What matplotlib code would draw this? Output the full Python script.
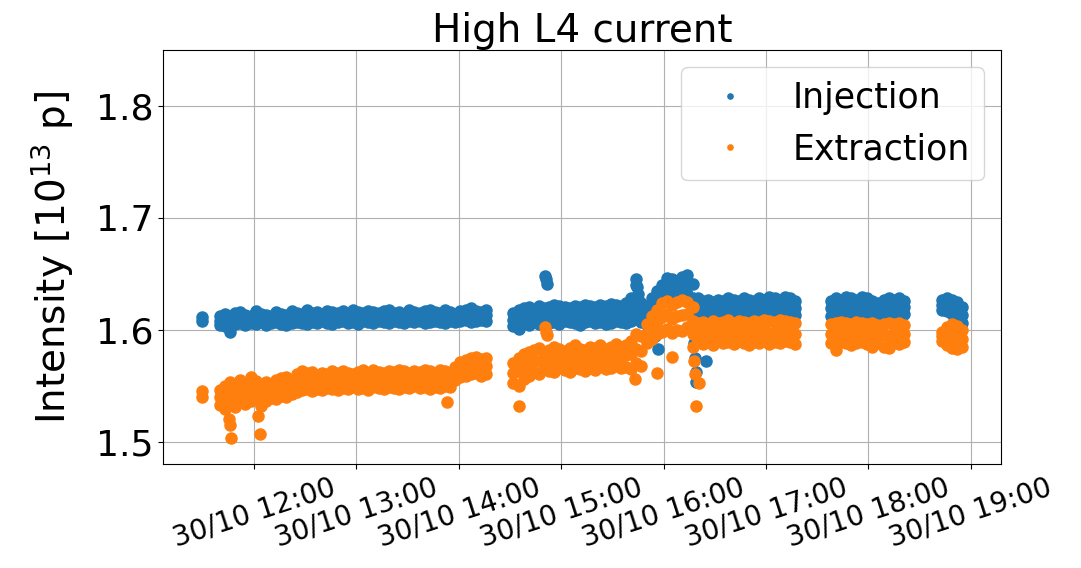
"""
Injection / extraction intensity during the high L4 current period (30/10).
"""
import numpy as np
import pandas as pd
import matplotlib
matplotlib.use("Agg")
import matplotlib.pyplot as plt
import matplotlib.dates as mdates

T0 = pd.Timestamp("2023-10-30 11:00")
STEP = 3.0      # minutes between samples inside a segment

# --------------------------------------------------------------------- #
# Data (minutes after 11:00, intensity in 1e13 p)   #
# each segment: start minute + upper / middle / lower row of the band  #
# --------------------------------------------------------------------- #
seg_starts = [40, 212, 290, 398, 429, 463]

inj_hi = [
    [1.612, 1.614, 1.611, 1.615, 1.616, 1.613, 1.612, 1.617, 1.614, 1.613,
     1.612, 1.616, 1.614, 1.613, 1.617, 1.615, 1.614, 1.618, 1.615, 1.616,
     1.614, 1.617, 1.616, 1.615, 1.617, 1.614, 1.618, 1.616, 1.615, 1.617,
     1.616, 1.615, 1.617, 1.618, 1.615, 1.616, 1.614, 1.618, 1.616, 1.615,
     1.617, 1.618, 1.616, 1.615, 1.618, 1.616, 1.614, 1.617, 1.618, 1.619,
     1.617, 1.616, 1.618],
    [1.615, 1.618, 1.619, 1.620, 1.618, 1.621, 1.619, 1.620, 1.622, 1.621,
     1.620, 1.619, 1.621, 1.620, 1.622, 1.621, 1.620, 1.622, 1.621, 1.623,
     1.622, 1.621, 1.624, 1.628, 1.640, 1.624],
    [1.620, 1.628, 1.635, 1.640, 1.646, 1.645, 1.643, 1.647, 1.649, 1.641,
     1.628, 1.626, 1.627, 1.625, 1.627, 1.626, 1.628, 1.627, 1.626, 1.628,
     1.627, 1.626, 1.628, 1.627, 1.629, 1.628, 1.627, 1.629, 1.628, 1.626],
    [1.626, 1.628, 1.627, 1.629, 1.628, 1.627, 1.629, 1.628, 1.626, 1.624],
    [1.627, 1.628, 1.627, 1.628, 1.626],
    [1.627, 1.628, 1.627, 1.625, 1.620],
]
inj_mid = [
    [1.608, 1.609, 1.607, 1.610, 1.611, 1.608, 1.609, 1.611, 1.610, 1.609,
     1.608, 1.611, 1.610, 1.609, 1.611, 1.612, 1.610, 1.611, 1.612, 1.610,
     1.611, 1.612, 1.610, 1.611, 1.612, 1.610, 1.612, 1.611, 1.612, 1.611,
     1.610, 1.612, 1.611, 1.612, 1.611, 1.612, 1.610, 1.612, 1.611, 1.612,
     1.611, 1.612, 1.613, 1.611, 1.612, 1.611, 1.610, 1.612, 1.613, 1.612,
     1.613, 1.612, 1.613],
    [1.609, 1.610, 1.612, 1.613, 1.612, 1.614, 1.613, 1.612, 1.615, 1.614,
     1.613, 1.612, 1.614, 1.613, 1.615, 1.614, 1.613, 1.615, 1.613, 1.614,
     1.615, 1.613, 1.614, 1.617, 1.624, 1.615],
    [1.612, 1.617, 1.624, 1.633, 1.638, 1.636, 1.637, 1.638, 1.640, 1.628,
     1.620, 1.619, 1.621, 1.618, 1.620, 1.619, 1.621, 1.620, 1.619, 1.621,
     1.620, 1.619, 1.620, 1.621, 1.622, 1.620, 1.621, 1.622, 1.620, 1.619],
    [1.619, 1.620, 1.618, 1.621, 1.620, 1.619, 1.621, 1.620, 1.617, 1.617],
    [1.620, 1.618, 1.619, 1.621, 1.620],
    [1.622, 1.623, 1.620, 1.616, 1.613],
]
inj_lo = [
    [1.604, 1.603, 1.598, 1.605, 1.606, 1.604, 1.606, 1.605, 1.607, 1.604,
     1.606, 1.607, 1.605, 1.604, 1.606, 1.607, 1.606, 1.605, 1.607, 1.606,
     1.608, 1.606, 1.605, 1.607, 1.608, 1.606, 1.607, 1.605, 1.608, 1.607,
     1.606, 1.608, 1.607, 1.606, 1.608, 1.607, 1.606, 1.608, 1.607, 1.608,
     1.606, 1.607, 1.608, 1.607, 1.606, 1.608, 1.607, 1.608, 1.609, 1.607,
     1.608, 1.609, 1.608],
    [1.603, 1.601, 1.606, 1.604, 1.607, 1.605, 1.608, 1.606, 1.607, 1.605,
     1.608, 1.607, 1.606, 1.604, 1.607, 1.608, 1.606, 1.607, 1.605, 1.606,
     1.608, 1.607, 1.606, 1.608, 1.610, 1.607],
    [1.604, 1.606, 1.612, 1.626, 1.630, 1.628, 1.631, 1.629, 1.632, 1.612,
     1.613, 1.611, 1.614, 1.612, 1.613, 1.611, 1.614, 1.612, 1.613, 1.612,
     1.614, 1.613, 1.611, 1.613, 1.614, 1.612, 1.613, 1.614, 1.612, 1.613],
    [1.612, 1.611, 1.613, 1.612, 1.614, 1.612, 1.613, 1.611, 1.609, 1.610],
    [1.612, 1.607, 1.611, 1.613, 1.614],
    [1.618, 1.617, 1.614, 1.608, 1.606],
]
ext_hi = [
    [1.546, 1.550, 1.553, 1.547, 1.555, 1.551, 1.558, 1.554, 1.549, 1.553,
     1.550, 1.555, 1.557, 1.558, 1.555, 1.560, 1.563, 1.561, 1.562, 1.559,
     1.561, 1.560, 1.563, 1.561, 1.563, 1.561, 1.560, 1.562, 1.564, 1.561,
     1.564, 1.562, 1.561, 1.563, 1.562, 1.564, 1.563, 1.561, 1.563, 1.562,
     1.564, 1.563, 1.561, 1.564, 1.563, 1.560, 1.567, 1.571, 1.573, 1.575,
     1.576, 1.574, 1.575],
    [1.570, 1.575, 1.578, 1.580, 1.582, 1.584, 1.580, 1.582, 1.585, 1.583,
     1.581, 1.584, 1.586, 1.583, 1.582, 1.585, 1.584, 1.586, 1.583, 1.585,
     1.587, 1.585, 1.586, 1.590, 1.596, 1.594],
    [1.605, 1.612, 1.618, 1.624, 1.626, 1.622, 1.625, 1.627, 1.625, 1.620,
     1.606, 1.607, 1.605, 1.608, 1.606, 1.607, 1.609, 1.606, 1.608, 1.607,
     1.606, 1.608, 1.607, 1.609, 1.608, 1.607, 1.609, 1.608, 1.607, 1.606],
    [1.605, 1.606, 1.607, 1.606, 1.605, 1.607, 1.606, 1.605, 1.606, 1.604],
    [1.605, 1.606, 1.605, 1.606, 1.604],
    [1.598, 1.602, 1.605, 1.603, 1.600],
]
ext_mid = [
    [1.540, 1.539, 1.543, 1.540, 1.545, 1.542, 1.546, 1.546, 1.541, 1.544,
     1.545, 1.546, 1.548, 1.548, 1.549, 1.551, 1.554, 1.554, 1.553, 1.553,
     1.554, 1.555, 1.554, 1.553, 1.556, 1.554, 1.555, 1.554, 1.556, 1.553,
     1.556, 1.555, 1.554, 1.556, 1.555, 1.556, 1.556, 1.554, 1.557, 1.555,
     1.556, 1.555, 1.556, 1.555, 1.557, 1.554, 1.561, 1.564, 1.566, 1.568,
     1.568, 1.566, 1.568],
    [1.561, 1.563, 1.567, 1.570, 1.572, 1.572, 1.573, 1.572, 1.574, 1.575,
     1.573, 1.573, 1.576, 1.574, 1.572, 1.576, 1.574, 1.577, 1.574, 1.576,
     1.578, 1.575, 1.577, 1.578, 1.583, 1.581],
    [1.596, 1.602, 1.607, 1.611, 1.614, 1.610, 1.612, 1.613, 1.614, 1.608,
     1.598, 1.597, 1.597, 1.597, 1.598, 1.597, 1.599, 1.596, 1.599, 1.597,
     1.596, 1.598, 1.597, 1.600, 1.597, 1.598, 1.598, 1.599, 1.598, 1.596],
    [1.596, 1.597, 1.598, 1.597, 1.595, 1.597, 1.598, 1.596, 1.595, 1.596],
    [1.595, 1.594, 1.597, 1.596, 1.596],
    [1.594, 1.594, 1.595, 1.593, 1.592],
]
ext_lo = [
    [1.533, 1.529, 1.535, 1.531, 1.537, 1.534, 1.536, 1.538, 1.532, 1.536,
     1.539, 1.538, 1.541, 1.540, 1.543, 1.544, 1.546, 1.547, 1.545, 1.547,
     1.546, 1.548, 1.547, 1.546, 1.548, 1.547, 1.549, 1.547, 1.548, 1.546,
     1.549, 1.548, 1.547, 1.549, 1.548, 1.547, 1.549, 1.548, 1.550, 1.548,
     1.549, 1.547, 1.549, 1.548, 1.550, 1.549, 1.555, 1.558, 1.559, 1.560,
     1.561, 1.559, 1.560],
    [1.552, 1.550, 1.556, 1.559, 1.562, 1.560, 1.565, 1.563, 1.562, 1.566,
     1.564, 1.562, 1.566, 1.565, 1.563, 1.566, 1.564, 1.567, 1.565, 1.566,
     1.568, 1.566, 1.567, 1.565, 1.570, 1.568],
    [1.588, 1.592, 1.596, 1.598, 1.601, 1.597, 1.600, 1.599, 1.602, 1.596,
     1.590, 1.587, 1.589, 1.586, 1.590, 1.588, 1.589, 1.587, 1.590, 1.588,
     1.586, 1.589, 1.588, 1.590, 1.587, 1.589, 1.588, 1.590, 1.589, 1.587],
    [1.588, 1.587, 1.589, 1.588, 1.586, 1.588, 1.589, 1.587, 1.585, 1.588],
    [1.585, 1.584, 1.588, 1.587, 1.589],
    [1.590, 1.586, 1.584, 1.583, 1.585],
]

# isolated points / spikes (minute, value)
inj_extra_t = [29.5, 29.5, 230.5, 231.0, 231.5, 284.0, 284.5, 285.0, 285.5,
               293.0, 295.0, 297.0, 317.5, 318.0, 318.5, 318.7, 319.0, 325.0]
inj_extra_v = [1.611, 1.608, 1.648, 1.645, 1.641, 1.645, 1.638, 1.632, 1.626,
               1.598, 1.594, 1.583, 1.600, 1.588, 1.575, 1.553, 1.562, 1.572]
ext_extra_t = [29.5, 29.5, 45.5, 46.0, 46.5, 62.5, 63.5, 173.0, 215.5, 230.5,
               231.0, 231.5, 283.0, 296.0, 305.0, 317.5, 318.0, 318.5, 318.7,
               321.0, 401.0]
ext_extra_v = [1.545, 1.540, 1.520, 1.515, 1.503, 1.523, 1.507, 1.535, 1.532,
               1.602, 1.598, 1.595, 1.556, 1.561, 1.576, 1.585, 1.572, 1.560,
               1.532, 1.552, 1.582]


def band_to_points(starts, rows, extra_t, extra_v):
    mins, vals = [], []
    for row in rows:
        for s, seg in zip(starts, row):
            mins += list(s + STEP * np.arange(len(seg)))
            vals += list(seg)
    mins += extra_t
    vals += extra_v
    times = T0 + pd.to_timedelta(np.array(mins), unit="min")
    return times, np.array(vals)


t_inj, v_inj = band_to_points(seg_starts, [inj_hi, inj_mid, inj_lo],
                              inj_extra_t, inj_extra_v)
t_ext, v_ext = band_to_points(seg_starts, [ext_hi, ext_mid, ext_lo],
                              ext_extra_t, ext_extra_v)

fig = plt.figure(figsize=(10.81, 5.68), dpi=100)
ax = fig.add_axes([0.1508, 0.1831, 0.7752, 0.7289])

ax.plot(t_inj, v_inj, "o", ms=8, color="#1f77b4", label="Injection")
ax.plot(t_ext, v_ext, "o", ms=8, color="#ff7f0e", label="Extraction")

ax.set_xlim(T0 + pd.Timedelta(minutes=6.7), T0 + pd.Timedelta(minutes=497.7))
ax.set_ylim(1.48, 1.85)
ax.set_yticks([1.5, 1.6, 1.7, 1.8])
ax.xaxis.set_major_locator(mdates.HourLocator())
ax.xaxis.set_major_formatter(mdates.DateFormatter("%d/%m %H:%M"))
ax.tick_params(axis="y", labelsize=26)
ax.tick_params(axis="x", labelsize=20, labelrotation=18)
ax.grid(True)

ax.set_ylabel(r"Intensity [$10^{13}$ p]", fontsize=28, labelpad=14)
ax.set_title("High L4 current", fontsize=28)
ax.legend(fontsize=25, loc="upper right", markerscale=0.47)

fig.savefig("out.png", dpi=100)
